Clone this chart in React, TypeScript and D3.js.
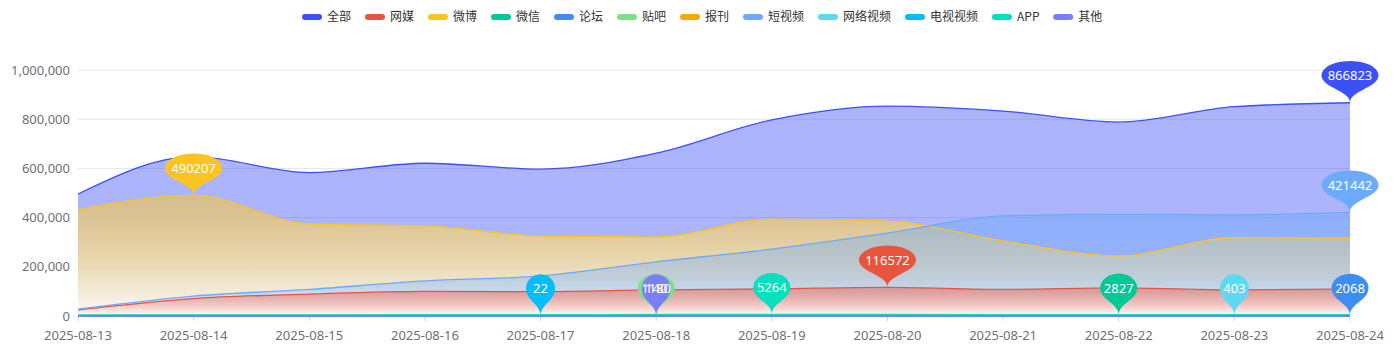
import React from 'react';
import * as d3 from 'd3';

// ---------- data ----------
const dates = ['2025-08-13', '2025-08-14', '2025-08-15', '2025-08-16', '2025-08-17', '2025-08-18',
  '2025-08-19', '2025-08-20', '2025-08-21', '2025-08-22', '2025-08-23', '2025-08-24'];
const yTicks = [0, 200000, 400000, 600000, 800000, 1000000];

const quanbu = [496000, 648000, 583000, 621000, 597000, 662000, 797000, 853000, 833000, 788000, 851000, 866823];
const wangmei = [25000, 71000, 89000, 100000, 99000, 106000, 110000, 116572, 108000, 114000, 106000, 110000];
const weibo = [432000, 490207, 374000, 366000, 325000, 321000, 394000, 386000, 305000, 244000, 318000, 316000];
const weixin = [1200, 1500, 1400, 1700, 1600, 2100, 2300, 2500, 2400, 2827, 2200, 2300];
const luntan = [900, 1100, 1000, 1200, 1300, 1400, 1500, 1600, 1700, 1800, 1900, 2068];
const tieba = [600, 700, 650, 800, 900, 1180, 1000, 950, 900, 850, 800, 900];
const baokan: number[] = [];
const duanshipin = [28000, 81000, 108000, 143000, 163000, 220000, 272000, 337000, 407000, 413000, 411000, 421442];
const wangluoshipin = [150, 200, 180, 250, 220, 300, 280, 320, 350, 330, 403, 380];
const dianshishipin = [10, 12, 15, 18, 22, 14, 16, 12, 10, 9, 11, 8];
const app = [2500, 3000, 3300, 3800, 4100, 4700, 5264, 4900, 4500, 4200, 4000, 4100];
const qita = [60, 80, 90, 100, 110, 140, 120, 110, 100, 95, 90, 100];

const seriesNames = ['全部', '网媒', '微博', '微信', '论坛', '贴吧', '报刊', '短视频', '网络视频', '电视视频', 'APP', '其他'];
const seriesValues = [quanbu, wangmei, weibo, weixin, luntan, tieba, baokan, duanshipin, wangluoshipin, dianshishipin, app, qita];
const seriesColors = ['#3D50F5', '#E8543E', '#FDC420', '#00C896', '#3E8DF3', '#80E08A', '#FFA500',
  '#6DAAFB', '#5DD9F2', '#00BDFB', '#08DFBE', '#7B7FF7'];
// drawing order of the filled areas (indices into the series lists)
const areaOrder = [0, 2, 7, 1, 3, 4, 5, 6, 8, 9, 10, 11];

// ---------- layout ----------
const W = 1396, H = 349;
const X0 = 78, X1 = 1350, Y0 = 316, Y1 = 70;
const pinWidthByDigits: Record<number, number> = { 1: 29, 2: 29, 3: 29, 4: 37, 5: 47, 6: 57 };

function pinPath(tipY: number): { d: string; cy: number } {
  const size = 48;
  const w = size / 5 * 3;
  const h = Math.max(w, size);
  const r = w / 2;
  const dy = r * r / (h - r);
  const cy = tipY - h + r + dy;
  const angle = Math.asin(dy / r);
  const dx = Math.cos(angle) * r;
  const tanX = Math.sin(angle);
  const tanY = Math.cos(angle);
  const cpLen = r * 0.6;
  const cpLen2 = r * 0.7;
  const p = d3.path();
  p.moveTo(-dx, cy + dy);
  p.arc(0, cy, r, Math.PI - angle, Math.PI * 2 + angle);
  p.bezierCurveTo(dx - tanX * cpLen, cy + dy + tanY * cpLen, 0, tipY - cpLen2, 0, tipY);
  p.bezierCurveTo(0, tipY - cpLen2, -dx + tanX * cpLen, cy + dy + tanY * cpLen, -dx, cy + dy);
  p.closePath();
  return { d: p.toString(), cy };
}

type Stop = { o: number; c: string; a: number };
function gradientStops(i: number, c: string): Stop[] {
  if (i === 0) return [{ o: 0, c, a: 0.43 }, { o: 1, c, a: 0.43 }];
  if (i === 7) return [{ o: 0, c, a: 0.45 }, { o: 0.6, c, a: 0.35 }, { o: 1, c: '#ffffff', a: 0.9 }];
  if (i === 1) return [{ o: 0, c, a: 0.45 }, { o: 1, c: '#ffffff', a: 0.95 }];
  return [{ o: 0, c, a: 0.5 }, { o: 1, c: '#ffffff', a: 0.95 }];
}

export default function App() {
  const x = d3.scalePoint<string>().domain(dates).range([X0, X1]);
  const y = d3.scaleLinear().domain([0, 1000000]).range([Y0, Y1]);
  const fmt = d3.format(',');

  const area = d3.area<number>()
    .x((_, i) => x(dates[i]) as number)
    .y0(Y0)
    .y1(v => y(v))
    .curve(d3.curveMonotoneX);
  const line = d3.line<number>()
    .x((_, i) => x(dates[i]) as number)
    .y(v => y(v))
    .curve(d3.curveMonotoneX);

  // legend layout
  const textW = (s: string) => {
    let w = 0;
    for (const ch of s) w += /[\u4e00-\u9fff]/.test(ch) ? 12 : 7.4;
    return w;
  };
  let lx = 302;
  const legendItems = seriesNames.map((n, i) => {
    const item = { name: n, color: seriesColors[i], x: lx };
    lx += 20 + 5 + textW(n) + 14;
    return item;
  });

  const pins = seriesValues.map((vals, i) => {
    if (!vals.length) return null;
    const mv = d3.max(vals) as number;
    const mi = vals.indexOf(mv);
    const px = x(dates[mi]) as number;
    const tipY = y(mv);
    const { d, cy } = pinPath(tipY);
    const label = String(mv);
    const pw = pinWidthByDigits[label.length] || 57;
    return { i, px, d, cy, label, sx: pw / 28.8, color: seriesColors[i] };
  }).filter(Boolean) as { i: number; px: number; d: string; cy: number; label: string; sx: number; color: string }[];

  const font = '"Noto Sans", "Noto Sans CJK SC", sans-serif';

  return (
    <svg width={W} height={H} style={{ position: 'absolute', left: 0, top: 0, background: '#fff' }}
      fontFamily={font}>
      <defs>
        {seriesValues.map((vals, i) => {
          if (!vals.length) return null;
          const top = y(d3.max(vals) as number);
          return (
            <linearGradient key={i} id={`grad${i}`} gradientUnits="userSpaceOnUse" x1={0} x2={0} y1={top} y2={Y0}>
              {gradientStops(i, seriesColors[i]).map((s, k) => (
                <stop key={k} offset={s.o} stopColor={s.c} stopOpacity={s.a} />
              ))}
            </linearGradient>
          );
        })}
      </defs>

      {/* grid */}
      {yTicks.map(t => (
        <g key={t}>
          {t > 0 && <line x1={X0} x2={X1} y1={y(t)} y2={y(t)} stroke="#E0E6F1" strokeWidth={1} />}
          <text x={70} y={y(t)} dy="0.35em" textAnchor="end" fontSize={13} fill="#6E7079">{fmt(t)}</text>
        </g>
      ))}
      <line x1={X0} x2={X1} y1={Y0} y2={Y0} stroke="#6E7079" strokeWidth={1} />
      {dates.map(d => (
        <g key={d}>
          <line x1={x(d)} x2={x(d)} y1={Y0} y2={Y0 + 5} stroke="#cfd3dc" strokeWidth={1} />
          <text x={x(d)} y={340} textAnchor="middle" fontSize={13} fill="#6E7079">{d}</text>
        </g>
      ))}

      {/* areas */}
      {areaOrder.map(i => seriesValues[i].length ? (
        <path key={`a${i}`} d={area(seriesValues[i]) as string} fill={`url(#grad${i})`} stroke="none" />
      ) : null)}
      {/* lines */}
      {seriesValues.map((vals, i) => vals.length ? (
        <path key={`l${i}`} d={line(vals) as string} fill="none" stroke={seriesColors[i]}
          strokeWidth={d3.max(vals)! < 10000 ? 2 : 1.3} />
      ) : null)}

      {/* max pins */}
      {pins.map(p => (
        <path key={`p${p.i}`} d={p.d} transform={`translate(${p.px},0) scale(${p.sx},1)`} fill={p.color} />
      ))}
      {pins.map(p => (
        <text key={`t${p.i}`} x={p.px} y={p.cy} dy="0.36em" textAnchor="middle" fontSize={13} fill="#fff">{p.label}</text>
      ))}

      {/* legend */}
      {legendItems.map(it => (
        <g key={it.name}>
          <rect x={it.x} y={14} width={20} height={6} rx={3} fill={it.color} />
          <text x={it.x + 25} y={17} dy="0.35em" fontSize={12} fill="#333"
            fontFamily='"Noto Sans CJK SC", "Noto Sans", sans-serif'>{it.name}</text>
        </g>
      ))}
    </svg>
  );
}
